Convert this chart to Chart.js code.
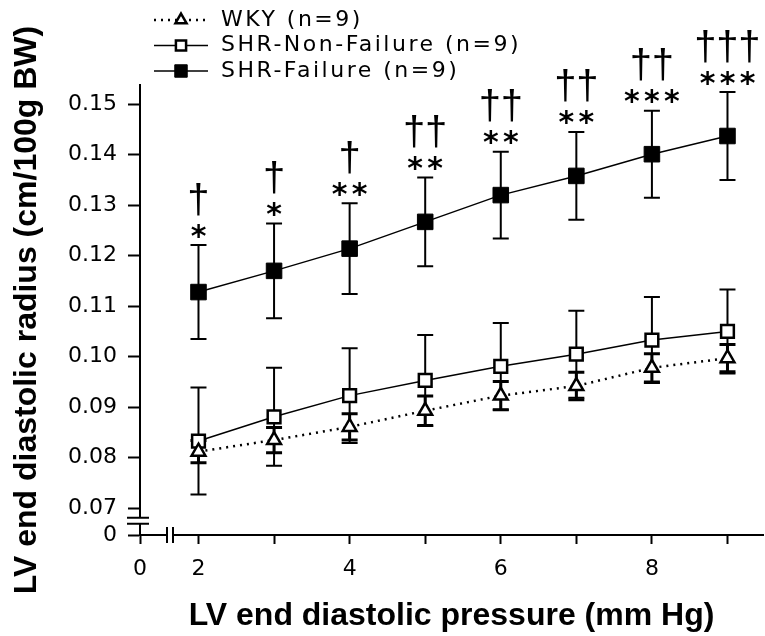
<!DOCTYPE html>
<html>
<head>
<meta charset="utf-8">
<script src="https://cdn.jsdelivr.net/npm/chart.js@4.4.1/dist/chart.umd.min.js"></script>
<style>
  html, body { margin: 0; padding: 0; background: #fff; }
</style>
</head>
<body>
<canvas id="LVRadius" width="765" height="636"></canvas>
<script>
// LV end diastolic pressure (mm Hg)
var Pressure = [2, 3, 4, 5, 6, 7, 8, 9];

// LV end diastolic radius (cm/100g BW), mean and SD
var WKY        = [0.0812, 0.0835, 0.0861, 0.0893, 0.0923, 0.0942, 0.0978, 0.0997];
var WKYSd      = [0.0022, 0.0025, 0.0026, 0.0029, 0.0028, 0.0027, 0.0028, 0.0027];
var NonFail    = [0.0833, 0.0881, 0.0923, 0.0953, 0.0981, 0.1005, 0.1033, 0.1050];
var NonFailSd  = [0.0106, 0.0097, 0.0094, 0.0090, 0.0086, 0.0086, 0.0085, 0.0083];
var Fail       = [0.1128, 0.1170, 0.1214, 0.1267, 0.1320, 0.1358, 0.1401, 0.1437];
var FailSd     = [0.0093, 0.0094, 0.0090, 0.0088, 0.0086, 0.0087, 0.0086, 0.0087];

// significance marks above the SHR-Failure bars
var Stars   = ["*", "*", "**", "**", "**", "**", "***", "***"];
var Daggers = ["\u2020", "\u2020", "\u2020", "\u2020\u2020", "\u2020\u2020", "\u2020\u2020", "\u2020\u2020", "\u2020\u2020\u2020"];

var Labels = ["WKY (n=9)", "SHR-Non-Failure (n=9)", "SHR-Failure (n=9)"];

// tick values; both axes are broken, the "0" sits just before the break
var XTicks = [2, 3, 4, 5, 6, 7, 8, 9];
var YTicks = [0.07, 0.08, 0.09, 0.10, 0.11, 0.12, 0.13, 0.14, 0.15];
var XZero = 1.226, XBreak = 1.623, XMax = 9.47;
var YZero = 0.0647, YBreak = 0.0675, YMax = 0.1538;

function points(ys) {
  return Pressure.map(function (x, i) { return { x: x, y: ys[i] }; });
}

function drawCentered(ctx, ch, x, y) {
  var m = ctx.measureText(ch);
  ctx.fillText(ch, x, y + (m.actualBoundingBoxAscent - m.actualBoundingBoxDescent) / 2);
}

function drawSpaced(ctx, str, cx, cy, gap) {
  var n = str.length;
  for (var i = 0; i < n; i++) {
    drawCentered(ctx, str[i], cx + (i - (n - 1) / 2) * gap, cy);
  }
}

var errorBars = {
  id: "errorBars",
  beforeDatasetsDraw: function (chart) {
    var ctx = chart.ctx, xs = chart.scales.x, ys = chart.scales.y;
    ctx.save();
    ctx.strokeStyle = "#000";
    chart.data.datasets.forEach(function (ds) {
      ctx.lineWidth = ds.errWidth;
      ds.data.forEach(function (p, i) {
        var px = xs.getPixelForValue(p.x);
        var hi = ys.getPixelForValue(p.y + ds.sd[i]);
        var lo = ys.getPixelForValue(p.y - ds.sd[i]);
        ctx.beginPath();
        ctx.moveTo(px, hi); ctx.lineTo(px, lo);
        ctx.moveTo(px - 8, hi); ctx.lineTo(px + 8, hi);
        ctx.moveTo(px - 8, lo); ctx.lineTo(px + 8, lo);
        ctx.stroke();
      });
    });
    ctx.restore();
  }
};

var marks = {
  id: "marks",
  afterDatasetsDraw: function (chart) {
    var ctx = chart.ctx, xs = chart.scales.x, ys = chart.scales.y;
    ctx.save();
    ctx.fillStyle = "#000";
    ctx.textAlign = "center";
    ctx.textBaseline = "alphabetic";
    Pressure.forEach(function (x, i) {
      var px = xs.getPixelForValue(x);
      var top = ys.getPixelForValue(Fail[i] + FailSd[i]);
      ctx.font = "bold 30px 'DejaVu Sans'";
      drawSpaced(ctx, Stars[i], px, top - 14, 20);
      ctx.font = "40px 'Liberation Sans'";
      drawSpaced(ctx, Daggers[i], px, top - 46, 22);
    });
    ctx.restore();
  }
};

var axisBreaks = {
  id: "axisBreaks",
  afterDraw: function (chart) {
    var ctx = chart.ctx, xs = chart.scales.x, ys = chart.scales.y;
    var ax = xs.getPixelForValue(XZero), ay = ys.getPixelForValue(YZero);
    var bx = xs.getPixelForValue(XBreak), by = ys.getPixelForValue(YBreak);
    ctx.save();
    ctx.fillStyle = "#fff";
    ctx.fillRect(bx - 3, ay - 3, 6, 6);
    ctx.fillRect(ax - 3, by - 3, 6, 6);
    ctx.strokeStyle = "#000";
    ctx.lineWidth = 2;
    ctx.beginPath();
    ctx.moveTo(bx - 3, ay - 8); ctx.lineTo(bx - 3, ay + 8);
    ctx.moveTo(bx + 3, ay - 8); ctx.lineTo(bx + 3, ay + 8);
    ctx.moveTo(ax - 13, by - 3); ctx.lineTo(ax + 9, by - 3);
    ctx.moveTo(ax - 13, by + 3); ctx.lineTo(ax + 9, by + 3);
    ctx.stroke();
    ctx.restore();
  }
};

var legendBox = {
  id: "legendBox",
  afterDraw: function (chart) {
    var ctx = chart.ctx;
    ctx.save();
    chart.data.datasets.forEach(function (ds, i) {
      var y = 20 + i * 25.5;
      ctx.strokeStyle = "#000";
      ctx.lineWidth = ds.borderWidth;
      ctx.setLineDash(ds.borderDash || []);
      ctx.beginPath();
      ctx.moveTo(154, y); ctx.lineTo(208, y);
      ctx.stroke();
      ctx.setLineDash([]);
      ctx.fillStyle = ds.pointBackgroundColor;
      ctx.lineWidth = ds.pointBorderWidth;
      Chart.helpers.drawPoint(ctx, {
        pointStyle: ds.pointStyle, radius: ds.pointRadius * 0.8,
        borderWidth: ds.pointBorderWidth, rotation: 0
      }, 181, y);
      ctx.fillStyle = "#000";
      ctx.font = "22px 'DejaVu Sans'";
      ctx.letterSpacing = "2.5px";
      ctx.textAlign = "left";
      ctx.textBaseline = "middle";
      ctx.fillText(ds.label, 221, y);
      ctx.letterSpacing = "0px";
    });
    ctx.restore();
  }
};

var ctx = document.getElementById("LVRadius").getContext("2d");

var LVChart = new Chart(ctx, {
  type: "line",
  data: {
    datasets: [{
      label: Labels[0],
      data: points(WKY),
      sd: WKYSd,
      errWidth: 3,
      borderColor: "#000",
      borderWidth: 2.5,
      borderDash: [2, 5],
      pointStyle: "triangle",
      pointRadius: 8,
      pointBorderWidth: 2.5,
      pointBackgroundColor: "#fff",
      pointBorderColor: "#000"
    }, {
      label: Labels[1],
      data: points(NonFail),
      sd: NonFailSd,
      errWidth: 2,
      borderColor: "#000",
      borderWidth: 1.5,
      pointStyle: "rect",
      pointRadius: 9,
      pointBorderWidth: 2.5,
      pointBackgroundColor: "#fff",
      pointBorderColor: "#000"
    }, {
      label: Labels[2],
      data: points(Fail),
      sd: FailSd,
      errWidth: 2,
      borderColor: "#000",
      borderWidth: 1.5,
      pointStyle: "rect",
      pointRadius: 11,
      pointBorderWidth: 1,
      pointBackgroundColor: "#000",
      pointBorderColor: "#000"
    }]
  },
  options: {
    responsive: false,
    animation: false,
    layout: { autoPadding: false, padding: { left: 0, top: 85, right: 2, bottom: 0 } },
    plugins: {
      legend: { display: false },
      tooltip: { enabled: false }
    },
    elements: { line: { tension: 0 } },
    scales: {
      x: {
        type: "linear",
        min: XZero,
        max: XMax,
        afterBuildTicks: function (scale) {
          scale.ticks = [XZero].concat(XTicks).map(function (v) { return { value: v }; });
        },
        afterFit: function (scale) {
          scale.height = 101;
          scale.paddingLeft = 0;
          scale.paddingRight = 0;
        },
        ticks: {
          autoSkip: false,
          maxRotation: 0,
          padding: 12,
          color: "#000",
          font: { family: "'DejaVu Sans'", size: 22 },
          callback: function (v) {
            if (Math.abs(v - XZero) < 1e-6) return "0";
            return v % 2 === 0 ? String(v) : "";
          }
        },
        grid: { drawOnChartArea: false, tickLength: 9, tickWidth: 2, tickColor: "#000" },
        border: { display: true, color: "#000", width: 2 },
        title: {
          display: true,
          text: "LV end diastolic pressure (mm Hg)",
          color: "#000",
          padding: { top: 0, bottom: 1 },
          font: { family: "'Liberation Sans'", size: 32, weight: "bold" }
        }
      },
      y: {
        type: "linear",
        min: YZero,
        max: YMax,
        afterBuildTicks: function (scale) {
          scale.ticks = [YZero].concat(YTicks).map(function (v) { return { value: v }; });
        },
        afterFit: function (scale) {
          scale.width = 140;
          scale.paddingTop = 0;
          scale.paddingBottom = 0;
        },
        ticks: {
          autoSkip: false,
          padding: 11,
          color: "#000",
          font: { family: "'DejaVu Sans'", size: 22 },
          callback: function (v) {
            if (Math.abs(v - YZero) < 1e-6) return "0";
            return v.toFixed(2);
          }
        },
        grid: { drawOnChartArea: false, tickLength: 12, tickWidth: 2, tickColor: "#000" },
        border: { display: true, color: "#000", width: 2 },
        title: {
          display: true,
          text: "LV end diastolic radius (cm/100g BW)",
          color: "#000",
          padding: { top: 8, bottom: 0 },
          font: { family: "'Liberation Sans'", size: 32, weight: "bold" }
        }
      }
    }
  },
  plugins: [errorBars, marks, axisBreaks, legendBox]
});
</script>
</body>
</html>
